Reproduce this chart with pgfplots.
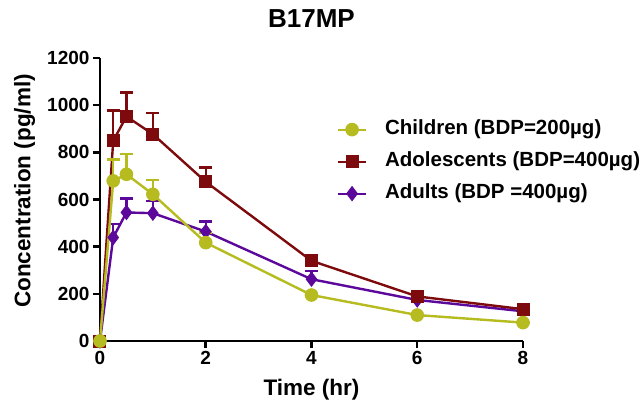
\documentclass[border=0pt]{standalone}
\usepackage{fontspec}
\setmainfont{Liberation Sans}
\usepackage{pgfplots}
\pgfplotsset{compat=1.18}
\definecolor{kidgreen}{RGB}{182,188,32}
\definecolor{teenred}{RGB}{125,10,12}
\definecolor{adultpurple}{RGB}{92,8,155}

\begin{document}
\begin{tikzpicture}
\path[use as bounding box] (-100pt,-66pt) rectangle (543pt,341pt);
\begin{axis}[
  at={(0pt,0pt)}, anchor=south west,
  scale only axis, width=423pt, height=283pt,
  xmin=0, xmax=8, ymin=0, ymax=1200,
  clip=false,
  axis lines=left,
  axis line style={-, line width=2.5pt},
  xtick={0,2,4,6,8}, ytick={0,200,...,1200},
  tick style={line width=2.5pt, black},
  tick align=outside, major tick length=7pt,
  tick label style={font=\fontsize{19}{19}\selectfont\bfseries},
  /pgf/number format/assume math mode=true,
  /pgf/number format/1000 sep={},
  xlabel={Time (hr)}, ylabel={Concentration (pg/ml)},
  label style={font=\fontsize{22.5}{22.5}\selectfont\bfseries},
  xlabel style={at={(axis description cs:0.5,-0.172)}, anchor=center},
  ylabel style={at={(axis description cs:-0.178,0.53)}, anchor=center},
  title={B17MP},
  title style={font=\fontsize{26}{26}\selectfont\bfseries,
    at={(axis description cs:0.5,1.085)}, anchor=base},
  every axis plot/.append style={line width=2.4pt},
  error bars/y dir=plus, error bars/y explicit,
  error bars/error bar style={line width=2.4pt},
  error bars/error mark options={rotate=90, line width=2.4pt, mark size=6.5pt},
  reverse legend,
  legend cell align=left,
  legend image code/.code={
    \draw[line width=2pt, mark repeat=2, mark phase=2]
      plot coordinates {(0pt,0pt) (14pt,0pt) (28pt,0pt)};},
  legend style={at={(axis description cs:0.56,0.783)}, anchor=north west,
    draw=none, fill=none, inner sep=0pt,
    font=\fontsize{20.5}{20.5}\selectfont\bfseries,
    row sep=12pt,
    nodes={inner sep=0pt, text height=15pt, text depth=5pt},
    /tikz/every odd column/.append style={column sep=18pt}},
]
% Adults
\addplot[color=adultpurple, mark=diamond*, mark size=7pt,
  mark options={solid, fill=adultpurple, line width=1pt}] coordinates {
  (0,0) +- (0,0)
  (0.25,439) +- (0,56)
  (0.5,545) +- (0,59)
  (1,542) +- (0,52)
  (2,464) +- (0,43)
  (4,262) +- (0,35)
  (6,174) +- (0,0)
  (8,126) +- (0,0)};
\addlegendentry{Adults (BDP =400µg)}
% Adolescents
\addplot[color=teenred, mark=square*, mark size=6pt,
  mark options={solid, fill=teenred, line width=1pt}] coordinates {
  (0,0) +- (0,0)
  (0.25,849) +- (0,128)
  (0.5,952) +- (0,102)
  (1,877) +- (0,89)
  (2,675) +- (0,61)
  (4,340) +- (0,5)
  (6,189) +- (0,0)
  (8,135) +- (0,0)};
\addlegendentry{Adolescents (BDP=400µg)}
% Children
\addplot[color=kidgreen, mark=*, mark size=6.3pt,
  mark options={solid, fill=kidgreen, line width=1pt}] coordinates {
  (0,0) +- (0,0)
  (0.25,679) +- (0,91)
  (0.5,707) +- (0,85)
  (1,622) +- (0,61)
  (2,417) +- (0,43)
  (4,195) +- (0,0)
  (6,110) +- (0,0)
  (8,78) +- (0,0)};
\addlegendentry{Children (BDP=200µg)}
\end{axis}
\end{tikzpicture}
\end{document}
